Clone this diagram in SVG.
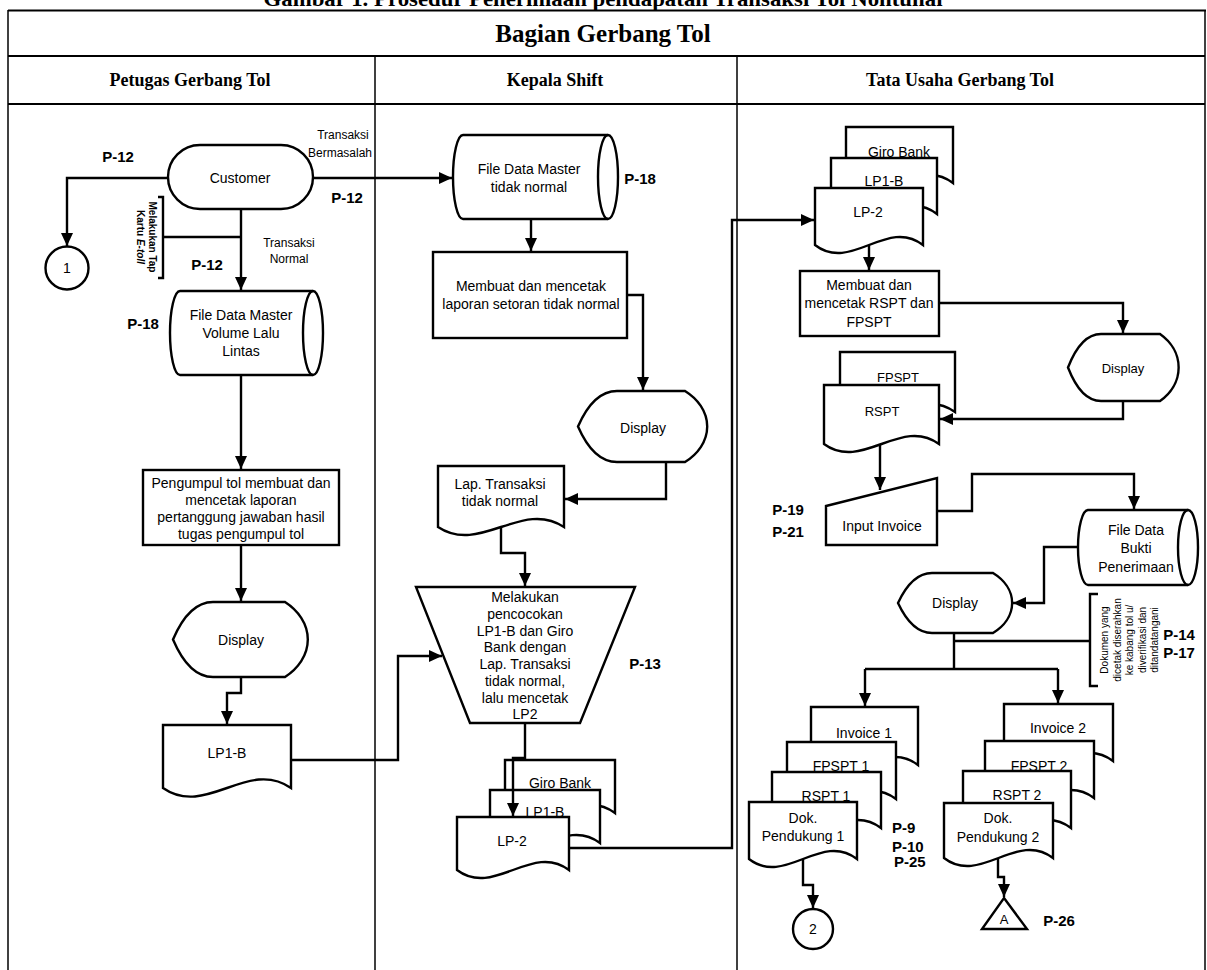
<svg xmlns="http://www.w3.org/2000/svg" width="1207" height="970" viewBox="0 0 1207 970">
<style>
.s{fill:#fff;stroke:#000;stroke-width:2.4;stroke-linejoin:miter}
.c{fill:none;stroke:#000;stroke-width:2.4}
.f{fill:none;stroke:#000;stroke-width:1.5}
text{font-family:"Liberation Sans",Arial,sans-serif;fill:#000}
.t{font-size:14px;text-anchor:middle;dominant-baseline:central}
.t13{font-size:13px;text-anchor:middle;dominant-baseline:central}
.p{font-size:15px;font-weight:bold;text-anchor:middle;dominant-baseline:central}
.ps{font-size:15px;font-weight:bold;dominant-baseline:central}
.sm{font-size:12px;text-anchor:middle;dominant-baseline:central}
.h{font-family:"Liberation Serif","Times New Roman",serif;font-weight:bold;text-anchor:middle}
</style>
<defs>
<marker id="ah" markerUnits="userSpaceOnUse" markerWidth="14" markerHeight="12" refX="13" refY="6" orient="auto"><path d="M0,0 L13,6 L0,12 z" fill="#000"/></marker>
</defs>
<rect width="1207" height="970" fill="#fff"/>
<g id="frame">
<text class="h" x="603" y="6" font-size="21" textLength="679" lengthAdjust="spacingAndGlyphs">Gambar 1. Prosedur Penerimaan pendapatan Transaksi Tol Nontunai</text>
<line x1="8" y1="10.5" x2="1206" y2="10.5" stroke="#000" stroke-width="2.2"/>
<line x1="8" y1="10" x2="8" y2="970" class="f"/>
<line x1="1205" y1="10" x2="1205" y2="970" class="f"/>
<line x1="8" y1="56" x2="1205" y2="56" stroke="#000" stroke-width="2"/>
<line x1="8" y1="104" x2="1205" y2="104" stroke="#000" stroke-width="2"/>
<line x1="375" y1="56" x2="375" y2="970" class="f"/>
<line x1="737" y1="56" x2="737" y2="970" class="f"/>
<text class="h" x="603" y="42" font-size="25">Bagian Gerbang Tol</text>
<text class="h" x="190" y="86" font-size="18">Petugas Gerbang Tol</text>
<text class="h" x="555" y="86" font-size="18">Kepala Shift</text>
<text class="h" x="960" y="86" font-size="18">Tata Usaha Gerbang Tol</text>
</g>

<g id="customer">
<rect x="168" y="145" width="145" height="64" rx="32" class="s"/>
<text class="t" x="240" y="178">Customer</text>
</g>
<g id="conn1">
<circle cx="67" cy="268" r="21.5" class="s"/>
<text class="t" x="67" y="268">1</text>
</g>
<g id="fdm-volume">
<path class="s" d="M180,291 H313 A10,42 0 0 1 313,375 H180 A10,42 0 0 1 180,291 Z"/>
<path class="c" d="M313,291 A10,42 0 0 0 313,375"/>
<text class="t" x="241" y="315">File Data Master</text>
<text class="t" x="241" y="333">Volume Lalu</text>
<text class="t" x="241" y="351">Lintas</text>
</g>
<g id="proc-pengumpul">
<rect x="143" y="470" width="196" height="75" class="s"/>
<text class="t" x="241" y="483">Pengumpul tol membuat dan</text>
<text class="t" x="241" y="500">mencetak laporan</text>
<text class="t" x="241" y="517">pertanggung jawaban hasil</text>
<text class="t" x="241" y="534">tugas pengumpul tol</text>
</g>
<g id="display1">
<path class="s" d="M213,602 H285 A64,49 0 0 1 285,677 H213 Q189,677 173,639.5 Q189,602 213,602 Z"/>
<text class="t" x="241" y="640">Display</text>
</g>
<g id="doc-lp1b">
<path class="s" d="M163,725 H291 V788 C248,758 206,818 163,788 Z"/>
<text class="t" x="227" y="753">LP1-B</text>
</g>

<g id="fdm-tidak-normal">
<path class="s" d="M463,135 H608 A10,42 0 0 1 608,219 H463 A10,42 0 0 1 463,135 Z"/>
<path class="c" d="M608,135 A10,42 0 0 0 608,219"/>
<text class="t" x="529" y="169">File Data Master</text>
<text class="t" x="529" y="187">tidak normal</text>
</g>
<g id="proc-setoran">
<rect x="433" y="252" width="194" height="86" class="s"/>
<text class="t" x="531" y="286">Membuat dan mencetak</text>
<text class="t" x="531" y="304">laporan setoran tidak normal</text>
</g>
<g id="display2">
<path class="s" d="M617,391 H685 A61,46 0 0 1 685,462 H617 Q593.5,462 578,426.5 Q593.5,391 617,391 Z"/>
<text class="t" x="643" y="428">Display</text>
</g>
<g id="doc-lap">
<path class="s" d="M438,466 H564 V527 C522,499 480,555 438,527 Z"/>
<text class="t" x="500" y="484">Lap. Transaksi</text>
<text class="t" x="500" y="501">tidak normal</text>
</g>
<g id="manual-pencocokan">
<path class="s" d="M416,587 H635 L580,723 H470 Z"/>
<text class="t" x="525" y="597">Melakukan</text>
<text class="t" x="525" y="614">pencocokan</text>
<text class="t" x="525" y="630.5">LP1-B dan Giro</text>
<text class="t" x="525" y="647">Bank dengan</text>
<text class="t" x="525" y="664">Lap. Transaksi</text>
<text class="t" x="525" y="681">tidak normal,</text>
<text class="t" x="525" y="697.5">lalu mencetak</text>
<text class="t" x="525" y="714">LP2</text>
</g>
<g id="stack-mid">
<path class="s" d="M505,760 H615 V813 C578,785 542,841 505,813 Z"/>
<text class="t" x="560" y="783">Giro Bank</text>
<path class="s" d="M490,790 H600 V843 C563,815 527,871 490,843 Z"/>
<text class="t" x="545" y="812">LP1-B</text>
<path class="s" d="M457,817 H569 V870 C532,842 494,898 457,870 Z"/>
<text class="t" x="512" y="841">LP-2</text>
</g>

<g id="stack-top-right">
<path class="s" d="M846,127 H953 V183 C917,155 882,211 846,183 Z"/>
<text class="t" x="899" y="152">Giro Bank</text>
<path class="s" d="M831,158 H937 V214 C902,186 866,242 831,214 Z"/>
<text class="t" x="884" y="181">LP1-B</text>
<path class="s" d="M815,188 H923 V245 C887,217 851,273 815,245 Z"/>
<text class="t" x="868" y="212">LP-2</text>
</g>
<g id="proc-rspt">
<rect x="800" y="271" width="139" height="65" class="s"/>
<text class="t" x="869" y="285">Membuat dan</text>
<text class="t" x="869" y="303">mencetak RSPT dan</text>
<text class="t" x="869" y="322">FPSPT</text>
</g>
<g id="display3">
<path class="s" d="M1101,334 H1160 A53,44 0 0 1 1160,401 H1101 Q1081,401 1068,367.5 Q1081,334 1101,334 Z"/>
<text class="t13" x="1123" y="368">Display</text>
</g>
<g id="stack-rspt">
<path class="s" d="M840,352 H955 V412 C917,384 878,440 840,412 Z"/>
<text class="t13" x="898" y="377">FPSPT</text>
<path class="s" d="M824,385 H939 V444 C901,416 862,472 824,444 Z"/>
<text class="t13" x="882" y="411">RSPT</text>
</g>
<g id="input-invoice">
<path class="s" d="M826,506 L937,478 V545 H826 Z"/>
<text class="t" x="882" y="526">Input Invoice</text>
</g>
<g id="fd-bukti">
<path class="s" d="M1088,510 H1188 A10,37.5 0 0 1 1188,585 H1088 A10,37.5 0 0 1 1088,510 Z"/>
<path class="c" d="M1188,510 A10,37.5 0 0 0 1188,585"/>
<text class="t" x="1136" y="530">File Data</text>
<text class="t" x="1136" y="548">Bukti</text>
<text class="t" x="1136" y="567">Penerimaan</text>
</g>
<g id="display4">
<path class="s" d="M932,573 H993 A53,39 0 0 1 993,633 H932 Q912,633 898,603 Q912,573 932,573 Z"/>
<text class="t" x="955" y="603">Display</text>
</g>
<g id="stack-1">
<path class="s" d="M811,707 H918 V765 C882,737 847,793 811,765 Z"/>
<text class="t" x="864" y="733">Invoice 1</text>
<path class="s" d="M787,742 H896 V799 C860,771 823,827 787,799 Z"/>
<text class="t" x="841" y="766">FPSPT 1</text>
<path class="s" d="M772,772 H881 V828 C845,800 808,856 772,828 Z"/>
<text class="t" x="826" y="796">RSPT 1</text>
<path class="s" d="M749,802 H857 V859 C821,831 785,887 749,859 Z"/>
<text class="t" x="803" y="818">Dok.</text>
<text class="t" x="803" y="836">Pendukung 1</text>
</g>
<g id="stack-2">
<path class="s" d="M1004,704 H1113 V761 C1077,733 1040,789 1004,761 Z"/>
<text class="t" x="1058" y="728">Invoice 2</text>
<path class="s" d="M985,741 H1094 V798 C1058,770 1021,826 985,798 Z"/>
<text class="t" x="1039" y="766">FPSPT 2</text>
<path class="s" d="M963,771 H1071 V828 C1035,800 999,856 963,828 Z"/>
<text class="t" x="1017" y="795">RSPT 2</text>
<path class="s" d="M944,803 H1053 V858 C1017,830 980,886 944,858 Z"/>
<text class="t" x="998" y="818">Dok.</text>
<text class="t" x="998" y="837">Pendukung 2</text>
</g>
<g id="conn2">
<circle cx="813" cy="929" r="20" class="s"/>
<text class="t" x="813" y="929">2</text>
</g>
<g id="offpage-a">
<path class="s" d="M1004,898 L1027,929 H982 Z"/>
<text class="t13" x="1004" y="919">A</text>
</g>

<g id="labels">
<text class="sm" x="343" y="135">Transaksi</text>
<text class="sm" x="340" y="153">Bermasalah</text>
<text class="sm" x="289" y="243">Transaksi</text>
<text class="sm" x="289" y="259">Normal</text>
<text transform="translate(149,237) rotate(90)" font-size="10" font-weight="bold" text-anchor="middle"><tspan x="0" y="0">Melakukan Tap</tspan><tspan x="0" y="12">Kartu <tspan font-style="italic">E-toll</tspan></tspan></text>
<text transform="translate(1108,640) rotate(-90)" font-size="10" text-anchor="middle"><tspan x="0" y="0">Dokumen yang</tspan><tspan x="0" y="12.5">dicetak diserahkan</tspan><tspan x="0" y="25">ke kabang tol u/</tspan><tspan x="0" y="37.5">diverifikasi dan</tspan><tspan x="0" y="50">ditandatangani</tspan></text>
<text class="p" x="118" y="156">P-12</text>
<text class="p" x="347" y="197">P-12</text>
<text class="p" x="207" y="264">P-12</text>
<text class="p" x="143" y="323">P-18</text>
<text class="p" x="640" y="178">P-18</text>
<text class="p" x="645" y="663">P-13</text>
<text class="p" x="788" y="509">P-19</text>
<text class="p" x="788" y="531">P-21</text>
<text class="p" x="1179" y="634">P-14</text>
<text class="p" x="1179" y="652">P-17</text>
<text class="ps" x="892" y="827">P-9</text>
<text class="ps" x="892" y="846">P-10</text>
<text class="ps" x="894" y="861">P-25</text>
<text class="p" x="1059" y="920">P-26</text>
</g>

<g id="connectors" class="c">
<path d="M168,178 H67 V246" marker-end="url(#ah)"/>
<path d="M313,178 H452" marker-end="url(#ah)"/>
<path d="M241,209 V290" marker-end="url(#ah)"/>
<path d="M163,237 H241"/>
<path d="M158,197 H163 V278 H158"/>
<path d="M241,375 V469" marker-end="url(#ah)"/>
<path d="M241,545 V601" marker-end="url(#ah)"/>
<path d="M241,677 V693 H227 V724" marker-end="url(#ah)"/>
<path d="M291,760 H398 V656 H442" marker-end="url(#ah)"/>
<path d="M531,219 V251" marker-end="url(#ah)"/>
<path d="M627,295 H643 V390" marker-end="url(#ah)"/>
<path d="M666,462 V499 H565" marker-end="url(#ah)"/>
<path d="M501,527 V553 H525 V586" marker-end="url(#ah)"/>
<path d="M525,723 V758 H513 V816" marker-end="url(#ah)"/>
<path d="M569,848 H732 V220 H814" marker-end="url(#ah)"/>
<path d="M869,245 V270" marker-end="url(#ah)"/>
<path d="M939,303 H1123 V333" marker-end="url(#ah)"/>
<path d="M1123,401 V419 H940" marker-end="url(#ah)"/>
<path d="M880,444 V490" marker-end="url(#ah)"/>
<path d="M937,511 H972 V474 H1134 V509" marker-end="url(#ah)"/>
<path d="M1078,547 H1044 V603 H1013" marker-end="url(#ah)"/>
<path d="M954,633 V669"/>
<path d="M865,669 H1058"/>
<path d="M865,669 V706" marker-end="url(#ah)"/>
<path d="M1058,669 V703" marker-end="url(#ah)"/>
<path d="M954,641 H1090"/>
<path d="M1098,594 H1090 V686 H1098"/>
<path d="M803,859 V885 H813 V908" marker-end="url(#ah)"/>
<path d="M998,858 V877 H1004 V897" marker-end="url(#ah)"/>
</g>
</svg>
